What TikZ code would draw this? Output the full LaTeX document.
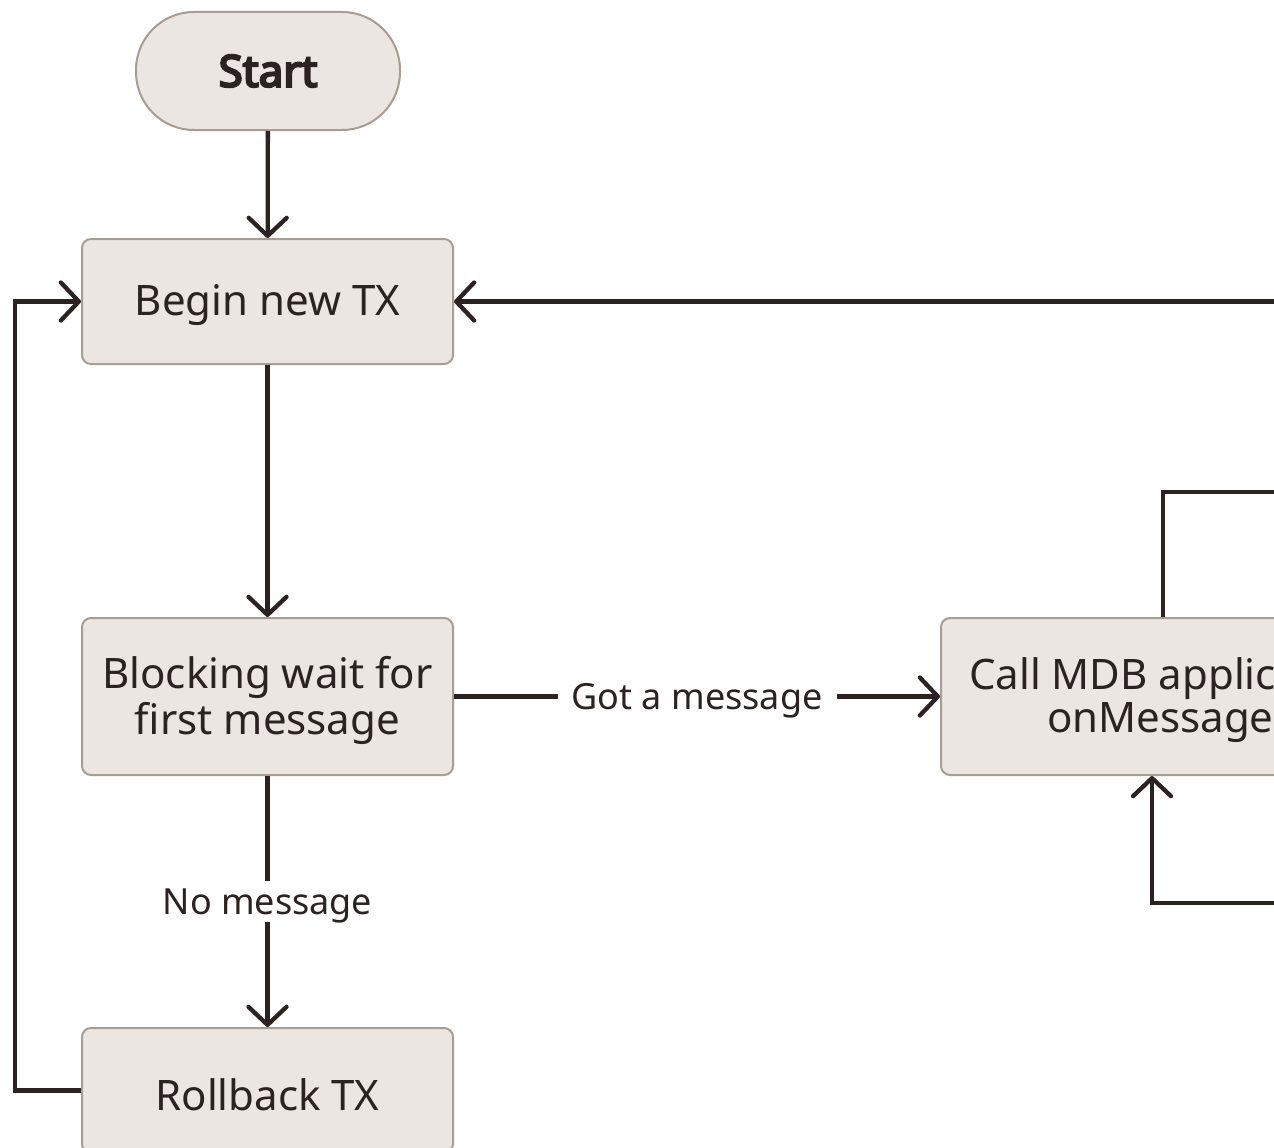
\documentclass[tikz,border=0pt]{standalone}
\usepackage{fontspec}
\setmainfont{Noto Sans}[BoldFont={Noto Sans}, BoldFeatures={FakeBold=5}]
\usetikzlibrary{arrows.meta,positioning}
\definecolor{boxfill}{HTML}{EBE6E1}
\definecolor{boxline}{HTML}{A89D93}
\definecolor{flowline}{HTML}{2B2321}
\newcommand{\boxw}{371}
\newcommand{\boxh}{125}
\newcommand{\tallh}{157}
\newcommand{\down}[2]{\raisebox{-#1}[\height][\depth]{#2}}

\begin{document}
\begin{tikzpicture}[x=1pt, y=-1pt,
    stepbox/.style={draw=boxline, fill=boxfill, line width=2pt, rounded corners=9pt,
        minimum width=\boxw pt, minimum height=\boxh pt, align=center, text=flowline,
        font=\fontsize{42}{41}\selectfont},
    startbox/.style={stepbox, rounded corners=58pt, minimum width=264pt, minimum height=118pt,
        font=\fontsize{44}{44}\selectfont\bfseries},
    flow/.style={draw=flowline, line width=4.3pt, -{Straight Barb[length=18pt,width=38pt,round]}},
    plain/.style={draw=flowline, line width=4.3pt},
    lbl/.style={fill=white, text=flowline, inner xsep=14pt, inner ysep=3pt,
        font=\fontsize{36}{36}\selectfont}]
        \useasboundingbox (0, 0) rectangle (1274, 1148);
        \clip (0, 0) rectangle (1274, 1148);

        % boxes
        \node [startbox] (start) at (268, 71) {Start};
        \node [stepbox] (begin) at (267.5, 301.5) {\down{4pt}{Begin new TX}};
        \node [stepbox, minimum height=\tallh pt] (block) at (267.5, 696.5) {\down{4pt}{\shortstack{Blocking wait for\\first message}}};
        \node [stepbox] (rollback) at (267.5, 1090.5) {\down{4pt}{Rollback TX}};
        \node [stepbox, minimum width=464pt, minimum height=\tallh pt] (call) at (1173, 696.5) {\down{4pt}{\shortstack{Call MDB application\\onMessage()}}};

        % free ends off the page
        \coordinate (backin) at (1330, 301.5);
        \coordinate (upout) at (1330, 492);
        \coordinate (retin) at (1330, 903);

        % connectors
        \draw[flow] (start) -- (begin);
        \draw[flow] (begin) -- (block);
        \draw[flow] (block) -- node[lbl] {\down{4pt}{No message}} (rollback);
        \draw[flow] (block) -- node[lbl] {\down{4pt}{Got a message}} (call);
        \draw[flow] (rollback.west) -- ++(-66, 0) |- (begin.west);
        \draw[flow] (backin) -- (begin.east);
        \draw[plain] ([xshift=-10pt]call.north) |- (upout);
        \draw[flow] (retin) -| ([xshift=-21pt]call.south);
    \end{tikzpicture}
\end{document}
